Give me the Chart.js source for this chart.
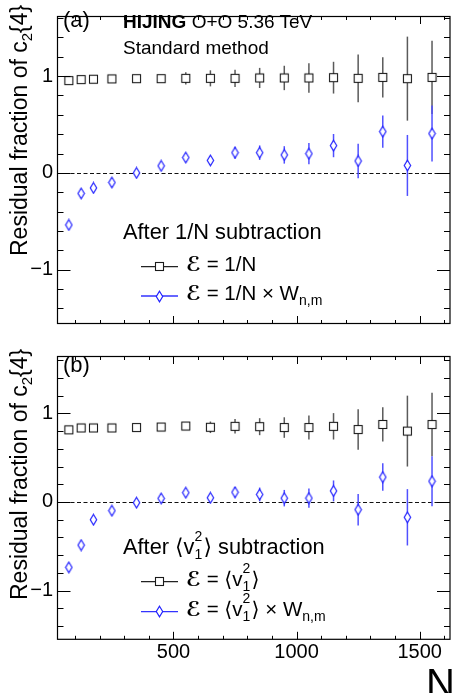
<!DOCTYPE html>
<html><head><meta charset="utf-8">
<script src="https://cdn.jsdelivr.net/npm/chart.js@4.4.1/dist/chart.umd.min.js"></script>
<style>
html,body{margin:0;padding:0;background:#fff;overflow:hidden;width:456px;height:693px;}
body{position:relative;font-family:"Liberation Sans",Arial,Helvetica,"DejaVu Sans",sans-serif;color:#000;}
canvas{position:absolute;left:0;}
#ca{top:0;width:456px;height:340px;}
#cb{top:340px;width:456px;height:353px;}
.t{position:absolute;white-space:nowrap;line-height:1;}
.yt{position:absolute;white-space:nowrap;line-height:1;font-size:23px;transform-origin:0 0;transform:rotate(-90deg);}
.yt sub{font-size:15px;position:relative;top:5px;vertical-align:baseline;}
.E{font-family:"DejaVu Sans",sans-serif;font-weight:bold;font-style:italic;}
.vv{position:relative;display:inline-block;width:9px;height:0;}
.vv .p,.vv .b{position:absolute;left:0;font-size:14px;line-height:1;}
.sb{font-size:14px;position:relative;top:5px;}
</style></head><body>
<canvas id="ca" width="456" height="340"></canvas>
<canvas id="cb" width="456" height="353"></canvas>

<div class="yt" style="left:7.5px;top:256px;">Residual fraction of c<sub>2</sub>{4}</div>
<div class="yt" style="left:7.5px;top:600px;">Residual fraction of c<sub>2</sub>{4}</div>

<div class="t" style="left:63px;top:9.4px;font-size:22px;">(a)</div>
<div class="t" style="left:123px;top:11.9px;font-size:19px;"><b>HIJING</b> O+O 5.36 TeV</div>
<div class="t" style="left:123px;top:38.2px;font-size:19px;">Standard method</div>
<div class="t" style="left:123px;top:220.8px;font-size:21.8px;">After 1/N subtraction</div>
<div class="t" style="left:186px;top:254.3px;font-size:20.5px;"><span class="E">ℰ</span> = 1/N</div>
<div class="t" style="left:186px;top:283.3px;font-size:20.5px;"><span class="E">ℰ</span> = 1/N × W<span class="sb">n,m</span></div>

<div class="t" style="left:63px;top:354.1px;font-size:22px;">(b)</div>
<div class="t" style="left:123px;top:535.8px;font-size:21.8px;">After ⟨v<span class="vv"><span class="p" style="top:-25px">2</span><span class="b" style="top:-7px">1</span></span>⟩ subtraction</div>
<div class="t" style="left:186px;top:569.4px;font-size:20.5px;"><span class="E">ℰ</span> = ⟨v<span class="vv"><span class="p" style="top:-25px">2</span><span class="b" style="top:-7px">1</span></span>⟩</div>
<div class="t" style="left:186px;top:599.4px;font-size:20.5px;"><span class="E">ℰ</span> = ⟨v<span class="vv"><span class="p" style="top:-25px">2</span><span class="b" style="top:-7px">1</span></span>⟩ × W<span class="sb">n,m</span></div>

<div class="t" style="left:426px;top:662.7px;font-size:40px;">N</div>

<script>
// ---- data ----
const nch = [75,125,175,250,350,450,550,650,750,850,950,1050,1150,1250,1350,1450,1550];

// panel (a): after 1/N subtraction
const aBlackVal = [0.954,0.964,0.968,0.971,0.974,0.974,0.977,0.977,0.977,0.981,0.981,0.981,0.984,0.977,0.987,0.974,0.987];
const aBlackErr = [0.004,0.005,0.006,0.008,0.015,0.036,0.063,0.083,0.089,0.104,0.126,0.152,0.164,0.247,0.207,0.434,0.378];
const aBlueVal  = [-0.537,-0.212,-0.155,-0.099,0.0,0.073,0.159,0.129,0.209,0.209,0.186,0.199,0.282,0.123,0.427,0.077,0.407];
const aBlueErr  = [0.010,0.012,0.013,0.015,0.020,0.025,0.035,0.045,0.062,0.075,0.090,0.110,0.120,0.177,0.166,0.315,0.290];

// panel (b): after <v1^2> subtraction
const bBlackVal = [0.814,0.835,0.835,0.835,0.840,0.846,0.857,0.843,0.854,0.850,0.840,0.840,0.854,0.818,0.875,0.800,0.874];
const bBlackErr = [0.004,0.005,0.006,0.008,0.015,0.025,0.035,0.065,0.082,0.096,0.116,0.136,0.149,0.229,0.193,0.400,0.358];
const bBlueVal  = [-0.738,-0.487,-0.200,-0.098,-0.008,0.040,0.105,0.047,0.110,0.085,0.043,0.044,0.125,-0.087,0.281,-0.173,0.234];
const bBlueErr  = [0.010,0.012,0.015,0.015,0.020,0.025,0.030,0.035,0.060,0.078,0.093,0.109,0.118,0.178,0.155,0.318,0.282];

const xMajorTicks = [500,1000,1500];
const yMajorTicks = [-1,0,1];

// ---- markers ----
function sqMarker(){const c=document.createElement('canvas');c.width=11;c.height=11;const g=c.getContext('2d');
  g.fillStyle='#fff';g.fillRect(1,1,9,9);g.strokeStyle='#1a1a1a';g.lineWidth=1.1;g.strokeRect(1.5,1.5,8,8);return c;}
function dmMarker(){const c=document.createElement('canvas');c.width=9;c.height=13;const g=c.getContext('2d');
  g.beginPath();g.moveTo(4.5,1.2);g.lineTo(7.7,6.5);g.lineTo(4.5,11.8);g.lineTo(1.3,6.5);g.closePath();
  g.fillStyle='#fff';g.fill();g.strokeStyle='#2222ff';g.lineWidth=1.2;g.stroke();return c;}
const SQ = sqMarker(), DM = dmMarker();

const FONT = '"Liberation Sans", Arial, Helvetica, sans-serif';

function panelPlugin(legendRows){
  return {
    id:'panel',
    beforeDatasetsDraw(chart){
      const {ctx, chartArea:a, scales:{x,y}} = chart;
      ctx.save();
      const y0 = Math.round(y.getPixelForValue(0))+0.5;
      ctx.setLineDash([4,2.5]); ctx.strokeStyle='#111'; ctx.lineWidth=1;
      ctx.beginPath(); ctx.moveTo(a.left,y0); ctx.lineTo(a.right,y0); ctx.stroke();
      ctx.setLineDash([]);
      chart.data.datasets.forEach(ds=>{
        ctx.strokeStyle = ds.errColor; ctx.lineWidth = 1.5;
        ds.data.forEach((p,i)=>{
          const e = ds.errors[i];
          const px = x.getPixelForValue(p.x);
          ctx.beginPath();
          ctx.moveTo(px, y.getPixelForValue(p.y+e));
          ctx.lineTo(px, y.getPixelForValue(p.y-e));
          ctx.stroke();
        });
      });
      ctx.restore();
    },
    afterDraw(chart){
      const {ctx, chartArea:a, scales:{x,y}} = chart;
      const L=a.left, R=a.right, T=a.top, B=a.bottom;
      ctx.save();
      ctx.strokeStyle='#000'; ctx.lineWidth=1;
      for(let k=-8;k<=9;k++){
        const v=k*0.2; const major = yMajorTicks.includes(Math.round(v*1000)/1000);
        const py = Math.round(y.getPixelForValue(v))+0.5;
        if(py<T+1||py>B-1) continue;
        const len = major?13:6;
        ctx.beginPath(); ctx.moveTo(L,py); ctx.lineTo(L+len,py); ctx.moveTo(R,py); ctx.lineTo(R-len,py); ctx.stroke();
      }
      for(let k=1;k<=16;k++){
        const v=k*100; const major = xMajorTicks.includes(v);
        const px = Math.round(x.getPixelForValue(v))+0.5;
        if(px<L+1||px>R-0.5) continue;
        const len = major?7.5:3.5;
        ctx.beginPath(); ctx.moveTo(px,B); ctx.lineTo(px,B-len); ctx.moveTo(px,T); ctx.lineTo(px,T+len); ctx.stroke();
      }
      ctx.lineWidth=1.2;
      ctx.strokeRect(L,T,R-L,B-T);
      legendRows.forEach(r=>{
        ctx.strokeStyle=r.color; ctx.lineWidth=1.3;
        ctx.beginPath(); ctx.moveTo(141,r.y); ctx.lineTo(178,r.y); ctx.stroke();
        ctx.drawImage(r.img, Math.round(159.5-r.img.width/2), Math.round(r.y-r.img.height/2));
      });
      ctx.restore();
    }
  };
}

function makeChart(id, blackVal, blackErr, blueVal, blueErr, o){
  return new Chart(document.getElementById(id), {
    type:'scatter',
    data:{datasets:[
      {data:nch.map((n,i)=>({x:n,y:blackVal[i]})), errors:blackErr, errColor:'#5a5a5a',
       pointStyle:SQ, pointRadius:5, showLine:false},
      {data:nch.map((n,i)=>({x:n,y:blueVal[i]})), errors:blueErr, errColor:'#5050ff',
       pointStyle:DM, pointRadius:5, showLine:false}
    ]},
    options:{
      responsive:false, animation:false, devicePixelRatio:1, events:[],
      layout:{padding:{left:0,right:0.5,top:o.padTop,bottom:o.padBottom}},
      plugins:{legend:{display:false},tooltip:{enabled:false}},
      scales:{
        x:{type:'linear', min:29, max:1623, display:o.showX,
           grid:{display:false,drawTicks:false}, border:{display:false},
           ticks:{autoSkip:false, maxRotation:0, minRotation:0, padding:1,
                  color:'#000', font:{family:FONT,size:20},
                  callback:v=> String(v)},
           afterBuildTicks:s=>{ s.ticks = xMajorTicks.map(v=>({value:v})); },
           afterFit:s=>{ if(o.showX) s.height=o.xH; }},
        y:{type:'linear', min:o.ymin, max:o.ymax,
           grid:{display:false,drawTicks:false}, border:{display:false},
           ticks:{autoSkip:false, padding:4.5, color:'#000', font:{family:FONT,size:20},
                  callback:v=> String(v).replace('-','\u2212')},
           afterBuildTicks:s=>{ s.ticks = yMajorTicks.map(v=>({value:v})); },
           afterFit:s=>{ s.width=57.5; }}
      }
    },
    plugins:[panelPlugin(o.legend)]
  });
}

makeChart('ca', aBlackVal, aBlackErr, aBlueVal, aBlueErr,
  {padTop:5, padBottom:15.7, showX:false, ymin:-1.556, ymax:1.616,
   legend:[{y:266.7,color:'#222',img:SQ},{y:296,color:'#3333ff',img:DM}]});
makeChart('cb', bBlackVal, bBlackErr, bBlueVal, bBlueErr,
  {padTop:6.7, padBottom:0, showX:true, xH:53.7, ymin:-1.55, ymax:1.642,
   legend:[{y:241.7,color:'#222',img:SQ},{y:271.7,color:'#3333ff',img:DM}]});
</script>
</body></html>
